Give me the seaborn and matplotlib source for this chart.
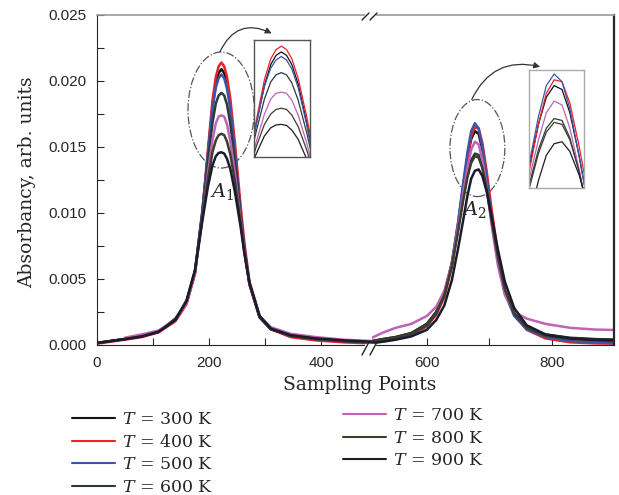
import numpy as np
import pandas as pd
import matplotlib
matplotlib.use('Agg')
import matplotlib.pyplot as plt
from matplotlib.patches import Ellipse
from matplotlib.lines import Line2D
from matplotlib.ticker import FormatStrFormatter
import seaborn as sns

# temperatures and line colours
temps = [300, 400, 500, 600, 700, 800, 900]
colors = ['#111111', '#e8202a', '#3b55a8', '#2b3a3a', '#c062b8', '#3d3d2b', '#1b1b2e']

# sampling points, left part (peak A1) and right part (peak A2) of the broken axis
x_left = [0, 50, 80, 110, 140, 160, 175, 188, 198, 206, 212, 217, 222, 227, 232,
          238, 246, 256, 263, 272, 290, 310, 345, 390, 440, 490]
x_right = [512, 530, 550, 575, 600, 615, 628, 640, 650, 658, 665, 671, 677, 683,
           689, 696, 704, 714, 725, 740, 760, 790, 830, 870, 900]

# absorbancy in units of 1e-3
a1_300 = [0.15, 0.45, 0.65, 1.0, 2.0, 3.2, 5.5, 10.0, 14.5, 18.0, 19.8, 20.6, 20.9, 20.6, 19.8,
          18.1, 14.8, 10.0, 7.2, 4.6, 2.1, 1.2, 0.7, 0.45, 0.3, 0.2]
a1_400 = [0.1, 0.4, 0.6, 0.95, 1.8, 3.1, 5.4, 10.0, 14.8, 18.5, 20.3, 21.1, 21.4, 21.1, 20.3,
          18.6, 15.3, 10.6, 7.7, 4.8, 2.2, 1.2, 0.6, 0.35, 0.2, 0.12]
a1_500 = [0.15, 0.45, 0.65, 1.0, 1.9, 3.3, 5.6, 10.2, 14.5, 17.9, 19.5, 20.2, 20.5, 20.2, 19.4,
          17.8, 14.6, 10.0, 7.2, 4.6, 2.1, 1.2, 0.7, 0.45, 0.3, 0.2]
a1_600 = [0.15, 0.45, 0.65, 1.0, 1.9, 3.3, 5.6, 10.0, 13.9, 16.8, 18.3, 18.9, 19.1, 18.9, 18.2,
          16.7, 13.9, 9.9, 7.2, 4.6, 2.1, 1.2, 0.7, 0.45, 0.3, 0.2]
a1_700 = [np.nan, 0.55, 0.8, 1.1, 1.9, 3.2, 5.4, 9.6, 13.0, 15.5, 16.8, 17.3, 17.4, 17.3, 16.7,
          15.4, 13.0, 9.5, 7.0, 4.6, 2.2, 1.35, 0.85, 0.6, 0.4, 0.3]
a1_800 = [0.15, 0.45, 0.65, 1.0, 1.9, 3.3, 5.6, 9.6, 12.6, 14.6, 15.5, 15.9, 16.0, 15.9, 15.4,
          14.4, 12.4, 9.3, 7.0, 4.6, 2.1, 1.2, 0.7, 0.45, 0.3, 0.2]
a1_900 = [0.15, 0.45, 0.65, 1.0, 1.9, 3.4, 5.7, 9.4, 12.0, 13.6, 14.3, 14.55, 14.6, 14.5, 14.1,
          13.3, 11.6, 9.0, 6.9, 4.7, 2.2, 1.25, 0.75, 0.5, 0.35, 0.25]

a2_300 = [0.3, 0.45, 0.6, 0.9, 1.6, 2.5, 3.9, 6.2, 9.2, 12.0, 14.2, 15.6, 16.2, 16.0, 14.8,
          12.6, 9.7, 6.6, 4.1, 2.4, 1.35, 0.75, 0.5, 0.42, 0.4]
a2_400 = [0.15, 0.3, 0.45, 0.75, 1.4, 2.3, 3.6, 5.9, 8.9, 11.8, 14.2, 15.8, 16.5, 16.4, 15.3,
          13.1, 10.2, 6.9, 4.2, 2.3, 1.15, 0.5, 0.2, 0.12, 0.1]
a2_500 = [0.2, 0.35, 0.5, 0.8, 1.5, 2.4, 3.8, 6.2, 9.3, 12.2, 14.6, 16.2, 16.8, 16.4, 15.0,
          12.6, 9.6, 6.4, 3.9, 2.2, 1.2, 0.6, 0.3, 0.2, 0.15]
a2_600 = [0.3, 0.45, 0.6, 0.9, 1.6, 2.5, 3.9, 6.1, 8.8, 11.1, 12.9, 14.0, 14.5, 14.4, 13.5,
          11.8, 9.3, 6.5, 4.1, 2.4, 1.4, 0.8, 0.55, 0.45, 0.4]
a2_700 = [0.55, 0.95, 1.3, 1.6, 2.2, 2.9, 4.1, 6.2, 8.9, 11.4, 13.4, 14.8, 15.4, 15.2, 14.0,
          11.9, 9.0, 6.0, 3.8, 2.5, 2.0, 1.6, 1.3, 1.17, 1.14]
a2_800 = [0.25, 0.4, 0.55, 0.85, 1.5, 2.4, 3.8, 6.0, 8.6, 10.9, 12.7, 13.8, 14.3, 14.2, 13.4,
          11.8, 9.4, 6.6, 4.2, 2.4, 1.3, 0.7, 0.45, 0.35, 0.3]
a2_900 = [0.15, 0.25, 0.4, 0.65, 1.15, 1.9, 3.0, 4.9, 7.3, 9.4, 11.3, 12.6, 13.2, 13.3, 12.8,
          11.6, 9.7, 7.2, 4.8, 2.8, 1.5, 0.8, 0.5, 0.4, 0.35]

left_series = [a1_300, a1_400, a1_500, a1_600, a1_700, a1_800, a1_900]
right_series = [a2_300, a2_400, a2_500, a2_600, a2_700, a2_800, a2_900]

labels = [f'$T$ = {t} K' for t in temps]
palette = dict(zip(labels, colors))


def to_long(xs, series):
    rows = []
    for lab, ys in zip(labels, series):
        for x, y in zip(xs, ys):
            rows.append((x, y * 1e-3, lab))
    return pd.DataFrame(rows, columns=['x', 'y', 'T'])


df_left = to_long(x_left, left_series)
df_right = to_long(x_right, right_series)

sns.set_style('ticks')
plt.rcParams['font.family'] = 'Liberation Sans'
plt.rcParams['mathtext.fontset'] = 'dejavuserif'

W, H = 619, 495
fig = plt.figure(figsize=(W / 100, H / 100), dpi=100)
ax1 = fig.add_axes([96.7 / W, 150 / H, 275.3 / W, 330 / H])
ax2 = fig.add_axes([372 / W, 150 / H, 242 / W, 330 / H], sharey=ax1)

for ax, df in [(ax1, df_left), (ax2, df_right)]:
    sns.lineplot(data=df, x='x', y='y', hue='T', hue_order=labels, palette=palette,
                 estimator=None, sort=True, linewidth=1.8, legend=False, ax=ax)
    ax.set_xlabel('')
    ax.set_ylabel('')
    ax.tick_params(which='both', direction='in', length=5, width=0.8, labelsize=11)
    ax.tick_params(axis='x', pad=8)
    ax.tick_params(axis='y', pad=7)
    ax.spines['top'].set_color('#9a9a9a')
    ax.spines['top'].set_linewidth(1.2)

ax1.set_xlim(0, 490)
ax2.set_xlim(512, 900)
ax1.set_ylim(0, 0.025)
ax1.set_xticks([0, 200, 400])
ax1.set_xticks([100, 300], minor=True)
ax2.set_xticks([600, 800])
ax2.set_xticks([700], minor=True)
ax1.set_yticks(np.arange(0, 0.0251, 0.005))
ax1.set_yticks(np.arange(0.0025, 0.025, 0.005), minor=True)
ax1.yaxis.set_major_formatter(FormatStrFormatter('%.3f'))
ax1.spines['right'].set_visible(False)
ax2.spines['left'].set_visible(False)
ax2.spines['right'].set_linewidth(1.6)
ax2.tick_params(which='both', left=False, labelleft=False)

# zoom insets
ins1 = ax1.inset_axes([0.571, 0.571, 0.203, 0.352])
ins2 = ax2.inset_axes([0.650, 0.475, 0.227, 0.358])
for ins, df, ec, xl, yl in [(ins1, df_left, '#555555', (196, 249), (0.0118, 0.0219)),
                            (ins2, df_right, '#aaaaaa', (658, 700), (0.0109, 0.0170))]:
    sns.lineplot(data=df, x='x', y='y', hue='T', hue_order=labels, palette=palette,
                 estimator=None, sort=True, linewidth=0.9, legend=False, ax=ins)
    ins.set_xlim(*xl)
    ins.set_ylim(*yl)
    ins.set_xticks([])
    ins.set_yticks([])
    ins.set_xlabel('')
    ins.set_ylabel('')
    for s in ins.spines.values():
        s.set_color(ec)
        s.set_linewidth(1.0)

# dash-dot ellipses round the peaks, arrows to the insets
ax1.add_patch(Ellipse((221.5, 0.0178), 118, 0.00879, fill=False, ls='-.', lw=0.9, ec='#555555'))
ax2.add_patch(Ellipse((681, 0.01492), 88, 0.00735, fill=False, ls='-.', lw=0.9, ec='#555555'))
arrow = dict(arrowstyle='-|>', color='#333333', lw=0.9, shrinkA=0, shrinkB=0, mutation_scale=9)
ax1.annotate('', xy=(311.5, 0.02361), xytext=(219.5, 0.02222),
             arrowprops=dict(arrow, connectionstyle='arc3,rad=-0.5'))
ax2.annotate('', xy=(781.6, 0.02108), xytext=(672, 0.01861),
             arrowprops=dict(arrow, connectionstyle='arc3,rad=-0.4'))
ax1.text(223, 0.01160, '$A_1$', ha='center', va='center', fontsize=14)
ax2.text(676, 0.01030, '$A_2$', ha='center', va='center', fontsize=14)


# axis break marks
def px(x, y):
    return x / W, 1 - y / H


for y0, y1, yb in [(355, 342, 345), (20, 13, 15)]:
    bx, by = zip(px(366, yb), px(374, yb))
    fig.add_artist(Line2D(bx, by, color='white', lw=2.5, transform=fig.transFigure))
    for xs in (362, 370):
        lx, ly = zip(px(xs, y0), px(xs + 7, y1))
        fig.add_artist(Line2D(lx, ly, color='#222222', lw=1.0, transform=fig.transFigure))

fig.text(360 / W, 1 - 385 / H, 'Sampling Points', ha='center', va='center',
         family='DejaVu Serif', fontsize=13.5)
fig.text(27 / W, 1 - 182 / H, 'Absorbancy, arb. units', ha='center', va='center',
         rotation=90, family='DejaVu Serif', fontsize=13.5)

handles = [Line2D([], [], color=c, lw=1.5) for c in colors]
leg_kw = dict(loc='upper left', frameon=False, prop={'family': 'DejaVu Serif', 'size': 12.5},
              handlelength=2.5, handletextpad=0.4, labelspacing=0.33,
              borderpad=0, borderaxespad=0)
fig.legend(handles[:4], labels[:4], bbox_to_anchor=(72 / W, 1 - 411 / H), **leg_kw)
fig.legend(handles[4:], labels[4:], bbox_to_anchor=(343 / W, 1 - 407 / H), **leg_kw)

fig.savefig('out.png', dpi=100)
